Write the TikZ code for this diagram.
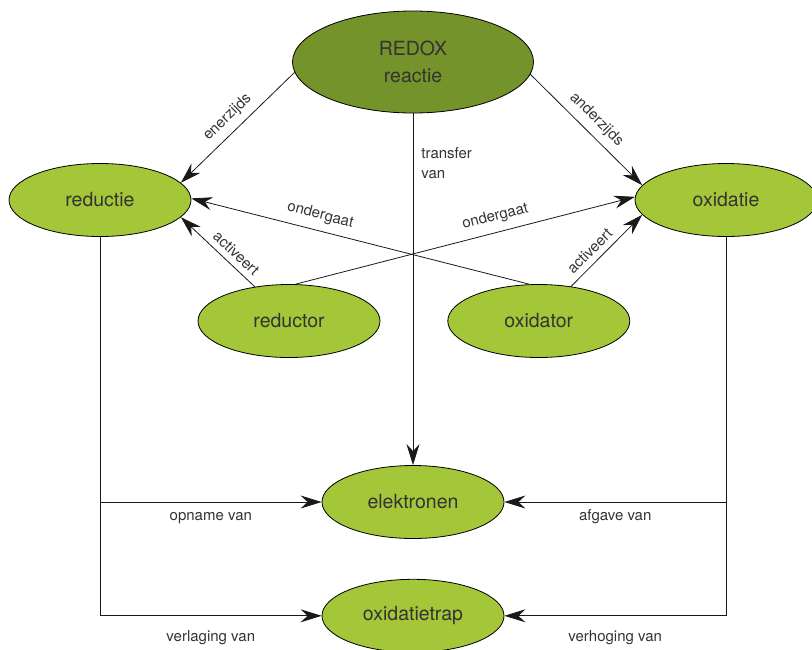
\documentclass[tikz,border=0pt]{standalone}
\usepackage{fontspec}
\setmainfont{TeX Gyre Heros}
\usepackage{tikz}
\usetikzlibrary{positioning}
\usetikzlibrary{shapes.geometric}
\usetikzlibrary{arrows.meta}
\definecolor{redoxgreen}{HTML}{74942B}
\definecolor{leafgreen}{HTML}{A4C639}
\definecolor{inkgray}{HTML}{333333}

\begin{document}
\begin{tikzpicture}[x=1pt, y=-1pt,
    concept/.style={ellipse, draw=black, line width=0.8pt, fill=leafgreen, minimum width=182pt, minimum height=73pt, inner sep=0pt, text=inkgray, font=\fontsize{19.5}{27}\selectfont},
    link/.style={draw=black!90, line width=0.8pt, -{Stealth[length=21pt, width=13pt, inset=7pt]}},
    tag/.style={text=inkgray, inner sep=2pt, font=\fontsize{15}{20}\selectfont}]

    \useasboundingbox (0,0) rectangle (812,649);

    \node[concept, fill=redoxgreen, minimum width=241pt, minimum height=102pt, align=center] (redox) at (413,62) {REDOX\\reactie};
    \node[concept] (reductie) at (100,200) {reductie};
    \node[concept] (oxidatie) at (726,200) {oxidatie};
    \node[concept] (reductor) at (289,321) {reductor};
    \node[concept, right=67pt of reductor] (oxidator) {oxidator};
    \node[concept] (elektronen) at (413,502) {elektronen};
    \node[concept, below=40pt of elektronen] (oxidatietrap) {oxidatietrap};

    \draw[link] (redox.185) -- node[tag, midway, above=5pt, sloped] {enerzijds} (reductie.12);
    \draw[link] (redox.-6) -- node[tag, midway, above=5pt, sloped] {anderzijds} (oxidatie.170);
    \draw[link] (redox.south) -- node[tag, pos=0.09, anchor=north west, xshift=6pt, align=left] {transfer\\van} (elektronen.north);

    \draw[link] (reductor.135) -- node[tag, pos=0.36, above=4pt, sloped] {activeert} (reductie.-12);
    \draw[link] (oxidator.47) -- node[tag, pos=0.38, above=4pt, sloped] {activeert} (oxidatie.190);
    \draw[link] (oxidator.104) -- node[tag, pos=0.63, above=6pt, sloped] {ondergaat} (reductie.1);
    \draw[link] (reductor.80) -- node[tag, pos=0.6, above=6pt, sloped] {ondergaat} (oxidatie.178);

    \draw[link] (reductie.south) |- node[tag, pos=0.75, anchor=base, yshift=-26pt] {verlaging van} (oxidatietrap.west);
    \draw[link] (reductie.south |- elektronen.west) -- node[tag, midway, anchor=base, yshift=-18pt] {opname van} (elektronen.west);
    \draw[link] (oxidatie.south) |- node[tag, pos=0.75, anchor=base, yshift=-26pt] {verhoging van} (oxidatietrap.east);
    \draw[link] (oxidatie.south |- elektronen.east) -- node[tag, midway, anchor=base, yshift=-18pt] {afgave van} (elektronen.east);

\end{tikzpicture}
\end{document}
